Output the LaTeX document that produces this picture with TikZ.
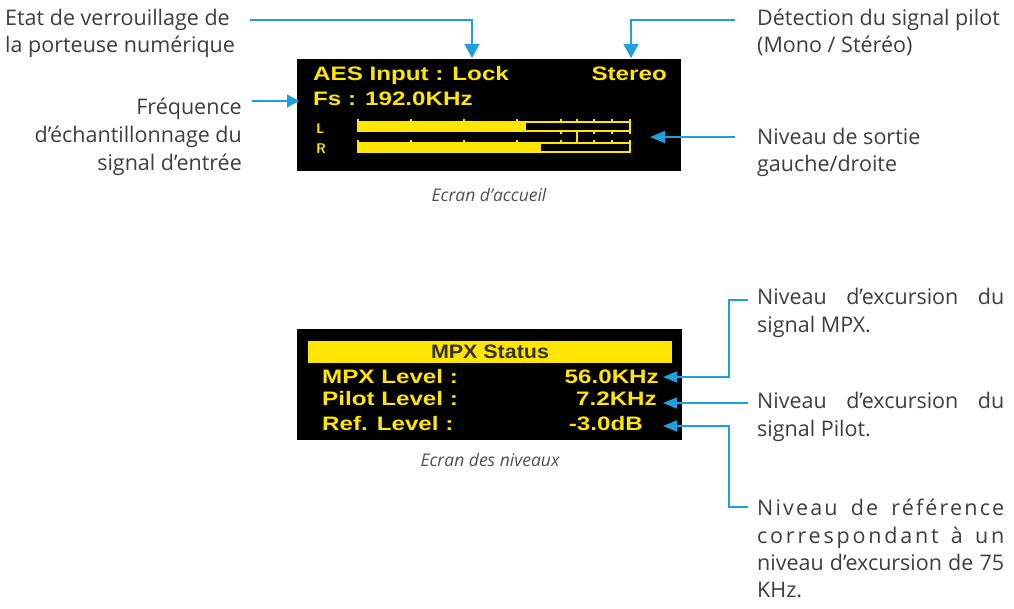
\documentclass[tikz,border=0pt]{standalone}
\usepackage{fontspec}
\setmainfont{Open Sans}
\newfontfamily\lcdfont[FakeStretch=1.24]{Liberation Sans}
\newfontfamily\lcdtitlefont[FakeStretch=1.1]{Liberation Sans}
\usetikzlibrary{arrows.meta}
\definecolor{lblue}{RGB}{30,160,222}
\definecolor{lcdyel}{RGB}{255,230,0}
\definecolor{txtgray}{RGB}{62,62,62}
\definecolor{captgray}{RGB}{80,80,80}
\begin{document}
\begin{tikzpicture}[x=1pt,y=-1pt,
  lbl/.style={font=\fontsize{21.5}{27}\selectfont, text=txtgray, inner sep=0pt},
  lcdtxt/.style={font=\lcdfont\bfseries\fontsize{19.5}{22}\selectfont, text=lcdyel, inner sep=0pt},
  lcdsmall/.style={font=\bfseries\fontsize{14}{16}\selectfont\sffamily, text=lcdyel, inner sep=0pt},
  capt/.style={font=\itshape\fontsize{17.5}{20}\selectfont, text=captgray, inner sep=0pt},
  screen/.style={fill=black, inner sep=0pt},
  conn/.style={draw=lblue, line width=1.6},
  meter/.style={draw=lcdyel, line width=1.2},
]
\useasboundingbox (0,0) rectangle (1014,609);

% ---------- Screen 1 ----------
\node[screen, minimum width=384, minimum height=112, anchor=north west] (scr1) at (297,59) {};
\node[lcdtxt, anchor=base west] (aes) at (313,81) {AES Input : Lock};
\node[lcdtxt, anchor=base east] (ster) at (667,81) {Stereo};
\node[lcdtxt, anchor=base west] (fs) at (313,106) {Fs : 192.0KHz};
\node[lcdsmall, anchor=base west] (lL) at (316,134) {L};
\node[lcdsmall, anchor=base west] (lR) at (316,154) {R};

% meters
\fill[lcdyel] (358,122) rectangle (526,131);
\draw[meter] (358,122) rectangle (630,131);
\fill[lcdyel] (358,143) rectangle (541,152);
\draw[meter] (358,143) rectangle (630,152);
\foreach \x in {358,411,464,517,561,577,594,612,630}{
  \draw[meter] (\x,119) -- (\x,122);
  \draw[meter] (\x,140) -- (\x,143);
}
\foreach \x in {561,594,612,630}{
  \draw[meter] (\x,131) -- (\x,134);
}
\draw[meter] (577,131) -- (577,143);

\node[capt, anchor=center] (cap1) at (489,195) {Ecran d’accueil};

% labels screen 1
\node[lbl, anchor=base west] (e1) at (5,26) {Etat de verrouillage de};
\node[lbl, anchor=base west] (e2) at (5,53) {la porteuse numérique};
\node[lbl, anchor=base east] (f1) at (242,115) {Fréquence};
\node[lbl, anchor=base east] (f2) at (242,143) {d’échantillonnage du};
\node[lbl, anchor=base east] (f3) at (242,171) {signal d’entrée};
\node[lbl, anchor=base west] (d1) at (757,26) {Détection du signal pilot};
\node[lbl, anchor=base west] (d2) at (757,53) {(Mono / Stéréo)};
\node[lbl, anchor=base west] (s1) at (757,145) {Niveau de sortie};
\node[lbl, anchor=base west] (s2) at (757,172) {gauche/droite};

\coordinate (cLockS) at (250,20);
\coordinate (tLock) at (472,58);
\coordinate (cStS) at (735,20);
\coordinate (tSt) at (631,58);
\coordinate (cFsS) at (252,101);
\coordinate (tFs) at (299,101);
\coordinate (cOutS) at (735,137);
\coordinate (tOut) at (650,137);

\draw[conn, -{Triangle[width=15,length=14]}] (cLockS) -| (tLock);
\draw[conn, -{Triangle[width=15,length=14]}] (cStS) -| (tSt);
\draw[conn, -{Triangle[width=13,length=12]}] (cFsS) -- (tFs);
\draw[conn, -{Triangle[width=12,length=15]}] (cOutS) -- (tOut);

% ---------- Screen 2 ----------
\node[screen, minimum width=385, minimum height=111, anchor=north west] (scr2) at (297,329) {};
\node[fill=lcdyel, minimum width=364, minimum height=22, inner sep=0pt, anchor=north west] (ttl) at (308,341) {};
\node[font=\lcdtitlefont\bfseries\fontsize{19.5}{22}\selectfont, text=black!80, inner sep=0pt, anchor=base] (ttltxt) at (490,359) {MPX Status};
\node[lcdtxt, anchor=base west] (r1) at (322,383) {MPX Level :};
\node[lcdtxt, anchor=base east] (v1) at (659,383) {56.0KHz};
\node[lcdtxt, anchor=base west] (r2) at (322,405) {Pilot Level :};
\node[lcdtxt, anchor=base east] (v2) at (657,405) {7.2KHz};
\node[lcdtxt, anchor=base west] (r3) at (322,430) {Ref. Level :};
\node[lcdtxt, anchor=base east] (v3) at (643,430) {-3.0dB};

\node[capt, anchor=center] (cap2) at (490,460) {Ecran des niveaux};

% right labels screen 2
\node[lbl, anchor=base west] (m1) at (757,305) {\makebox[247pt][s]{Niveau d’excursion du}};
\node[lbl, anchor=base west] (m2) at (757,333) {signal MPX.};
\node[lbl, anchor=base west] (p1) at (757,408) {\makebox[247pt][s]{Niveau d’excursion du}};
\node[lbl, anchor=base west] (p2) at (757,436) {signal Pilot.};
\node[lbl, anchor=base west] (q1) at (757,515) {\addfontfeature{LetterSpace=10}\makebox[247pt][s]{Niveau de référence}};
\node[lbl, anchor=base west] (q2) at (757,543) {\addfontfeature{LetterSpace=13}\makebox[247pt][s]{correspondant à un}};
\node[lbl, anchor=base west] (q3) at (757,570) {\makebox[247pt][s]{niveau d’excursion de 75}};
\node[lbl, anchor=base west] (q4) at (757,597) {KHz.};

\coordinate (cMs) at (748,300);
\coordinate (tM) at (663,377);
\coordinate (cPs) at (748,403);
\coordinate (tP) at (663,403);
\coordinate (cRs) at (748,507);
\coordinate (tR) at (663,426);

\draw[conn, -{Triangle[width=11,length=14]}] (cMs) -- (729,300) |- (tM);
\draw[conn, -{Triangle[width=11,length=14]}] (cPs) -- (tP);
\draw[conn, -{Triangle[width=11,length=14]}] (cRs) -- (729,507) |- (tR);
\end{tikzpicture}
\end{document}
